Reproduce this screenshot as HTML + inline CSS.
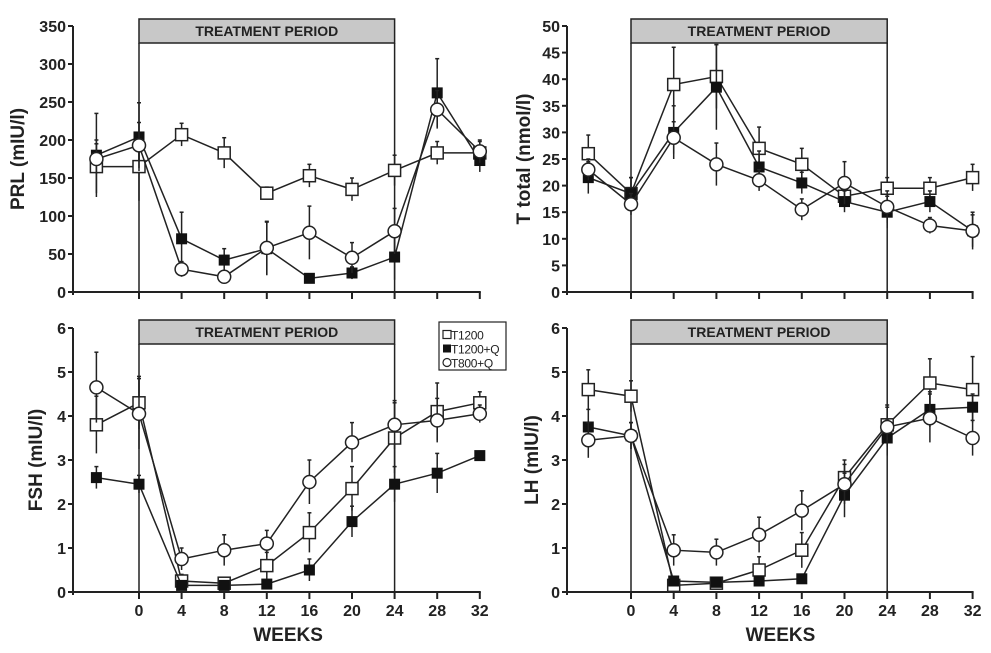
<!DOCTYPE html>
<html><head><meta charset="utf-8"><style>
body{margin:0;background:#fff}
svg{display:block;font-family:"Liberation Sans",Arial,sans-serif;font-weight:bold}
</style></head><body>
<svg id="c" width="991" height="653" viewBox="0 0 991 653"></svg>
<script>
const weeks=[-4,0,4,8,12,16,20,24,28,32];
const xTickLabels=["0","4","8","12","16","20","24","28","32"];
const seriesNames=["T1200","T1200+Q","T800+Q"];
// PRL
const prlT1200=[165,165,207,183,130,153,135,160,183,183];
const prlT1200Q=[180,204,70,42,57,18,25,46,262,173];
const prlT800Q=[175,193,30,20,58,78,45,80,240,185];
const prlErr=[[35,45,15,20,8,15,15,20,15,15],[55,45,35,15,35,5,8,30,45,15],[20,30,10,5,35,35,20,30,25,15]];
// T total
const ttT1200=[26,18.5,39,40.5,27,24,18,19.5,19.5,21.5];
const ttT1200Q=[21.5,18.5,30,38.5,23.5,20.5,17,15,17,11.5];
const ttT800Q=[23,16.5,29,24,21,15.5,20.5,16,12.5,11.5];
const ttErr=[[3.5,3,7,6,4,3,2,2,2,2.5],[3,3,5,8,3,2,2,3,2,3.5],[2,2,3,4,2,2,4,3,1.5,3]];
// FSH
const fshT1200=[3.8,4.3,0.25,0.2,0.6,1.35,2.35,3.5,4.1,4.3];
const fshT1200Q=[2.6,2.45,0.15,0.15,0.18,0.5,1.6,2.45,2.7,3.1];
const fshT800Q=[4.65,4.05,0.75,0.95,1.1,2.5,3.4,3.8,3.9,4.05];
const fshErr=[[0.65,0.6,0.15,0.1,0.3,0.45,0.5,0.8,0.65,0.25],[0.25,0.2,0.1,0.1,0.1,0.25,0.35,0.4,0.45,0.1],[0.8,0.8,0.25,0.35,0.3,0.5,0.45,0.55,0.5,0.2]];
// LH
const lhT1200=[4.6,4.45,0.15,0.2,0.5,0.95,2.6,3.8,4.75,4.6];
const lhT1200Q=[3.75,3.55,0.25,0.22,0.25,0.3,2.2,3.5,4.15,4.2];
const lhT800Q=[3.45,3.55,0.95,0.9,1.3,1.85,2.45,3.75,3.95,3.5];
const lhErr=[[0.45,0.35,0.1,0.1,0.3,0.4,0.4,0.45,0.55,0.75],[0.4,0.3,0.1,0.1,0.1,0.1,0.5,0.4,0.4,0.3],[0.4,0.3,0.35,0.3,0.4,0.45,0.45,0.45,0.55,0.4]];

const NS="http://www.w3.org/2000/svg";
const svg=document.getElementById('c');
function mk(tag,attrs,parent){const e=document.createElementNS(NS,tag);for(const k in attrs)e.setAttribute(k,attrs[k]);(parent||svg).appendChild(e);return e;}

function panel(cfg){
  const g=mk('g',{});
  
  
  const x=w=>cfg.x0+(w/4)*cfg.dx;
  const y=v=>cfg.y0-(v/cfg.step)*cfg.dy;
  const bx=x(0),bx2=x(24);
  const hdr=mk('rect',{x:bx,y:cfg.top,width:bx2-bx,height:24,fill:'#c8c8c8',stroke:'#222','stroke-width':1.5},g);
  
  
  const ht=mk('text',{x:(bx+bx2)/2,y:cfg.top+17,'text-anchor':'middle','font-size':14,fill:'#222'},g);ht.textContent='TREATMENT PERIOD';
  
  
  mk('line',{x1:bx,y1:cfg.top+24,x2:bx,y2:cfg.y0,stroke:'#222','stroke-width':1.5},g);
  mk('line',{x1:bx2,y1:cfg.top+24,x2:bx2,y2:cfg.y0,stroke:'#222','stroke-width':1.5},g);
  const ya=mk('line',{x1:cfg.ax,y1:y(cfg.max),x2:cfg.ax,y2:cfg.y0+3,stroke:'#222','stroke-width':2},g);
  
  
  const xa=mk('line',{x1:cfg.ax,y1:cfg.y0,x2:x(32)+1,y2:cfg.y0,stroke:'#222','stroke-width':2},g);
  
  
  for(let v=0;v<=cfg.max+1e-9;v+=cfg.step){
    mk('line',{x1:cfg.ax-5,y1:y(v),x2:cfg.ax,y2:y(v),stroke:'#222','stroke-width':2},g);
    const t=mk('text',{x:cfg.ax-7,y:y(v)+6,'text-anchor':'end','font-size':16,fill:'#222'},g);t.textContent=String(v);
    
    
  }
  weeks.slice(1).forEach((w,i)=>{
    mk('line',{x1:x(w),y1:cfg.y0,x2:x(w),y2:cfg.y0+7,stroke:'#222','stroke-width':2},g);
    if(cfg.xlabels){const t=mk('text',{x:x(w),y:cfg.y0+24,'text-anchor':'middle','font-size':16,fill:'#222'},g);t.textContent=xTickLabels[i];
      
      }
  });
  if(cfg.xlabels){const t=mk('text',{x:x(14),y:cfg.y0+49,'text-anchor':'middle','font-size':19,fill:'#222'},g);t.textContent='WEEKS';
    
    }
  const yt=mk('text',{x:0,y:0,'text-anchor':'middle','font-size':19,fill:'#222',transform:`translate(${cfg.titleX},${(cfg.y0+y(cfg.max))/2}) rotate(-90)`},g);
  yt.textContent=cfg.title;
  
  
  cfg.series.forEach((vals,si)=>{
    const sg=mk('g',{},g);
    
    
    vals.forEach((v,i)=>{const e=cfg.err[si][i];
      mk('line',{x1:x(weeks[i]),y1:y(v+e),x2:x(weeks[i]),y2:y(Math.max(0,v-e)),stroke:'#222','stroke-width':1.5},sg);
      mk('line',{x1:x(weeks[i])-2,y1:y(v+e),x2:x(weeks[i])+2,y2:y(v+e),stroke:'#222','stroke-width':1.5},sg);
    });
    mk('polyline',{points:vals.map((v,i)=>x(weeks[i])+','+y(v)).join(' '),fill:'none',stroke:'#222','stroke-width':1.5},sg);
    vals.forEach((v,i)=>{const cx=x(weeks[i]),cy=y(v);let m;
      if(si===0)m=mk('rect',{x:cx-6,y:cy-6,width:12,height:12,fill:'#fff',stroke:'#222','stroke-width':1.5},sg);
      else if(si===1)m=mk('rect',{x:cx-5.5,y:cy-5.5,width:11,height:11,fill:'#111'},sg);
      else m=mk('circle',{cx:cx,cy:cy,r:6.5,fill:'#fff',stroke:'#222','stroke-width':1.5},sg);
      
      
    });
  });
}
panel({name:'prl-panel',x0:139,dx:42.6,ax:73,y0:292,dy:38,step:50,max:350,top:19,title:'PRL (mIU/l)',titleX:24,xlabels:false,series:[prlT1200,prlT1200Q,prlT800Q],err:prlErr});
panel({name:'t-total-panel',x0:631,dx:42.7,ax:567,y0:292,dy:26.6,step:5,max:50,top:19,title:'T total (nmol/l)',titleX:530,xlabels:false,series:[ttT1200,ttT1200Q,ttT800Q],err:ttErr});
panel({name:'fsh-panel',x0:139,dx:42.6,ax:73,y0:592,dy:44,step:1,max:6,top:320,title:'FSH (mIU/l)',titleX:42,xlabels:true,series:[fshT1200,fshT1200Q,fshT800Q],err:fshErr});
panel({name:'lh-panel',x0:631,dx:42.7,ax:567,y0:592,dy:44,step:1,max:6,top:320,title:'LH (mIU/l)',titleX:538,xlabels:true,series:[lhT1200,lhT1200Q,lhT800Q],err:lhErr});
const lg=mk('g',{});


mk('rect',{x:439,y:322,width:67,height:48,fill:'#fff',stroke:'#222','stroke-width':1.2},lg);
seriesNames.forEach((n,i)=>{const yy=335+i*14;let m;
  if(i===0)m=mk('rect',{x:443,y:yy-4.5,width:8,height:8,fill:'#fff',stroke:'#222','stroke-width':1.2},lg);
  else if(i===1)m=mk('rect',{x:443,y:yy-4.5,width:8,height:8,fill:'#111'},lg);
  else m=mk('circle',{cx:447,cy:yy-0.5,r:4,fill:'#fff',stroke:'#222','stroke-width':1.2},lg);
  const t=mk('text',{x:451,y:yy+4.5,'font-size':12,'font-weight':'normal','letter-spacing':'-0.3',fill:'#222'},lg);t.textContent=n;
  
  
});
</script>
</body></html>
